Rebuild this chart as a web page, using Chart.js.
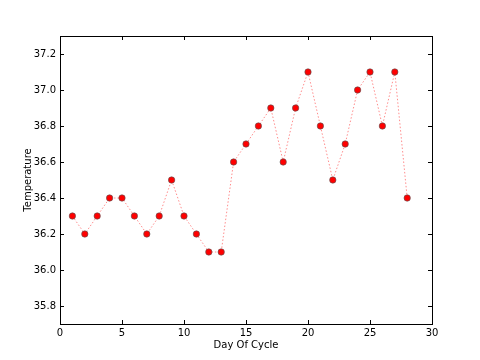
<!DOCTYPE html>
<html><head><meta charset="utf-8">
<script src="https://cdn.jsdelivr.net/npm/chart.js@4/dist/chart.umd.min.js"></script>
<style>html,body{margin:0;padding:0;background:#fff}#wrap{width:480px;height:360px}</style>
</head><body><div id="wrap"><canvas id="c" width="480" height="360"></canvas></div>
<script>
const days = [1,2,3,4,5,6,7,8,9,10,11,12,13,14,15,16,17,18,19,20,21,22,23,24,25,26,27,28];
const temperatures = [36.3,36.2,36.3,36.4,36.4,36.3,36.2,36.3,36.5,36.3,36.2,36.1,36.1,36.6,36.7,36.8,36.9,36.6,36.9,37.1,36.8,36.5,36.7,37.0,37.1,36.8,37.1,36.4];
const xTicks = [0,5,10,15,20,25,30];
const yTicks = [35.8,36.0,36.2,36.4,36.6,36.8,37.0,37.2];
const xLabel = 'Day Of Cycle';
const yLabel = 'Temperature';

const FONT = {family: 'DejaVu Sans', size: 10};
const boxPlugin = {
  id: 'box',
  afterDraw(chart) {
    const {ctx, chartArea: a, scales} = chart;
    ctx.save();
    ctx.strokeStyle = '#000';
    ctx.lineWidth = 1;
    ctx.strokeRect(Math.round(a.left) + 0.5, Math.round(a.top) + 0.5, Math.round(a.right - a.left), Math.round(a.bottom - a.top));
    const L = 4;
    ctx.beginPath();
    xTicks.forEach(v => {
      const x = Math.round(scales.x.getPixelForValue(v)) + 0.5;
      ctx.moveTo(x, a.bottom); ctx.lineTo(x, a.bottom - L);
      ctx.moveTo(x, a.top); ctx.lineTo(x, a.top + L);
    });
    yTicks.forEach(v => {
      const y = Math.round(scales.y.getPixelForValue(v)) + 0.5;
      ctx.moveTo(a.left, y); ctx.lineTo(a.left + L, y);
      ctx.moveTo(a.right, y); ctx.lineTo(a.right - L, y);
    });
    ctx.stroke();
    ctx.restore();
  }
};

new Chart(document.getElementById('c'), {
  type: 'line',
  data: {
    datasets: [{
      data: days.map((d, i) => ({x: d, y: temperatures[i]})),
      borderColor: 'rgba(255,0,0,0.45)',
      borderWidth: 1,
      borderDash: [1.5, 2],
      backgroundColor: '#ff0000',
      pointBackgroundColor: '#ff0000',
      pointBorderColor: '#555',
      pointBorderWidth: 0.6,
      pointRadius: 3.2,
      tension: 0,
      fill: false
    }]
  },
  options: {
    responsive: false,
    animation: false,
    devicePixelRatio: 1,
    layout: {padding: {left: 22, top: 36, right: 48, bottom: 9}},
    plugins: {legend: {display: false}, tooltip: {enabled: false}},
    scales: {
      x: {
        type: 'linear', min: 0, max: 30,
        afterBuildTicks: s => { s.ticks = xTicks.map(v => ({value: v})); },
        afterFit: s => { s.height = 27; },
        grid: {display: false, drawTicks: false},
        border: {display: false},
        ticks: {font: FONT, color: '#000', padding: 3, maxRotation: 0,
          callback: v => String(v)},
        title: {display: true, text: xLabel, font: FONT, color: '#000', padding: {top: 0, bottom: 0}}
      },
      y: {
        type: 'linear', min: 35.7, max: 37.3,
        afterBuildTicks: s => { s.ticks = yTicks.map(v => ({value: v})); },
        afterFit: s => { s.width = 38; },
        grid: {display: false, drawTicks: false},
        border: {display: false},
        ticks: {font: FONT, color: '#000', padding: 4,
          callback: v => Number(v).toFixed(1)},
        title: {display: true, text: yLabel, font: FONT, color: '#000', padding: {top: 0, bottom: 0}}
      }
    }
  },
  plugins: [boxPlugin]
});
</script></body></html>
